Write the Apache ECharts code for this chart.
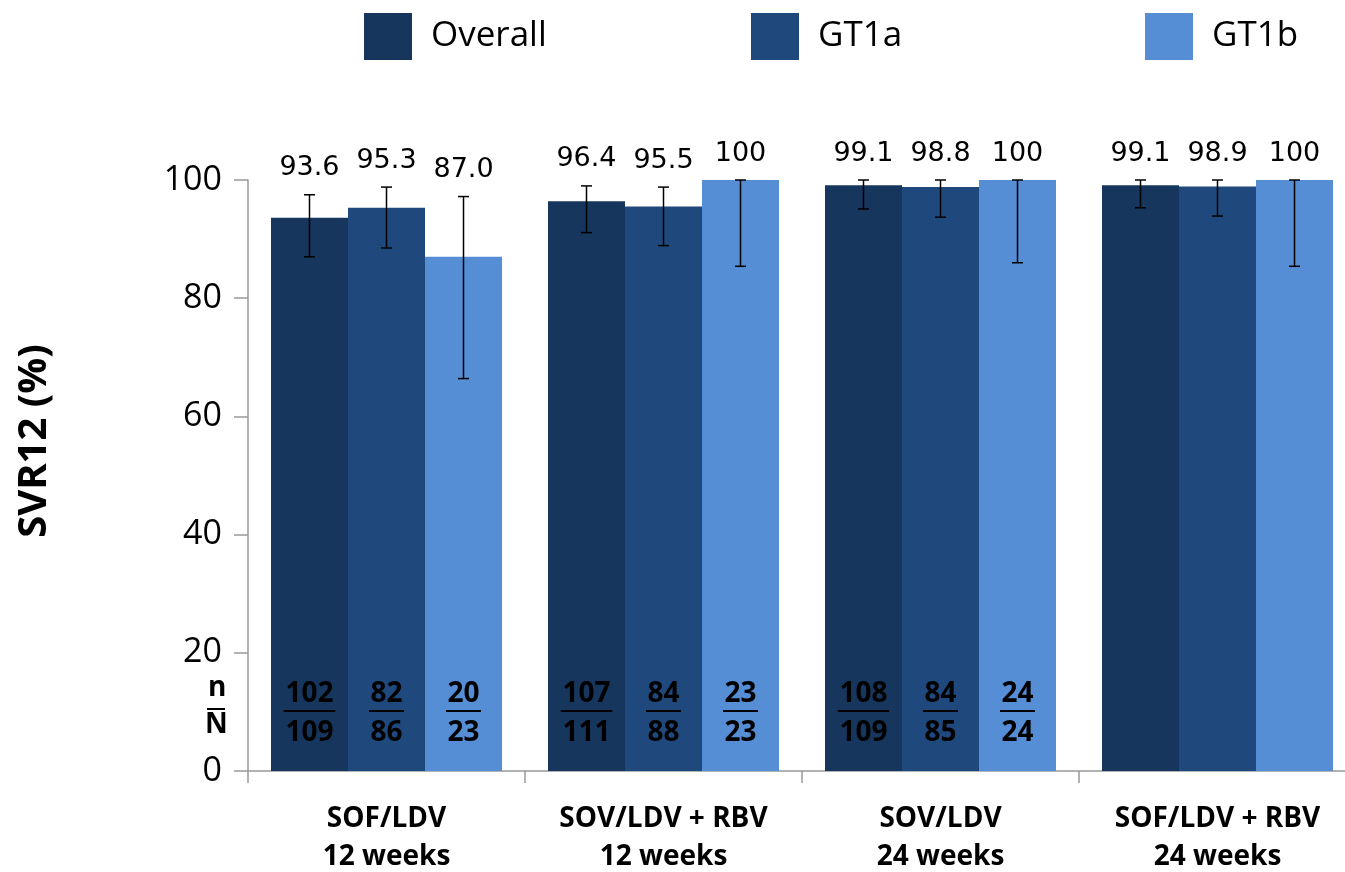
<!DOCTYPE html>
<html>
<head>
<meta charset="utf-8">
<script src="https://cdn.jsdelivr.net/npm/echarts@6/dist/echarts.min.js"></script>
<style>
  html, body { margin: 0; padding: 0; background: #fff; }
  #main { width: 1345px; height: 872px; }
</style>
</head>
<body>
<div id="main"></div>
<script>
// categories and series
const categories = ['SOF/LDV\n12 weeks', 'SOV/LDV + RBV\n12 weeks', 'SOV/LDV\n24 weeks', 'SOF/LDV + RBV\n24 weeks'];
const seriesNames = ['Overall', 'GT1a', 'GT1b'];
const colors = ['#17365D', '#1F497D', '#558ED5'];

// SVR12 values (%)
const overall = [93.6, 96.4, 99.1, 99.1];
const gt1a = [95.3, 95.5, 98.8, 98.9];
const gt1b = [87.0, 100, 100, 100];

// error bars: lower / upper
const overallLow = [87.0, 91.1, 95.1, 95.3];
const overallHigh = [97.5, 99.0, 100, 100];
const gt1aLow = [88.5, 88.9, 93.7, 93.9];
const gt1aHigh = [98.8, 98.8, 100, 100];
const gt1bLow = [66.4, 85.4, 86.0, 85.4];
const gt1bHigh = [97.2, 100, 100, 100];

// labels on bars
const valueLabels = [
    ['93.6', '96.4', '99.1', '99.1'],
    ['95.3', '95.5', '98.8', '98.9'],
    ['87.0', '100', '100', '100']
];

// n / N inside bars (last arm has none)
const overallN = ['102', '107', '108', ''];
const overallD = ['109', '111', '109', ''];
const gt1aN = ['82', '84', '84', ''];
const gt1aD = ['86', '88', '85', ''];
const gt1bN = ['20', '23', '24', ''];
const gt1bD = ['23', '23', '24', ''];

const yTicks = [0, 20, 40, 60, 80, 100];
const nRowY = 13.1;
const dRowY = 6.5;

const chart = echarts.init(document.getElementById('main'));

const values = [overall, gt1a, gt1b];
const lows = [overallLow, gt1aLow, gt1bLow];
const highs = [overallHigh, gt1aHigh, gt1bHigh];
const nums = [overallN, gt1aN, gt1bN];
const dens = [overallD, gt1aD, gt1bD];

const CAT_GAP = 0.166;

// error bar + label data: [cat, seriesIdx, low, high]
const extraData = [];
for (let s = 0; s < 3; s++) {
    for (let c = 0; c < categories.length; c++) {
        extraData.push([c, s, lows[s][c], highs[s][c]]);
    }
}

function renderExtra(params, api) {
    const c = api.value(0);
    const s = api.value(1);
    const band = api.size([1, 0])[0];
    const barW = band * (1 - CAT_GAP) / 3;
    const center = api.coord([c, 0])[0];
    const x = center + (s - 1) * barW;
    const lo = api.coord([c, api.value(2)])[1];
    const hi = api.coord([c, api.value(3)])[1];
    const cap = 5.5;
    const lineStyle = { stroke: '#000', lineWidth: 1.5 };
    const children = [
        { type: 'line', shape: { x1: x, y1: lo, x2: x, y2: hi }, style: lineStyle },
        { type: 'line', shape: { x1: x - cap, y1: lo, x2: x + cap, y2: lo }, style: lineStyle },
        { type: 'line', shape: { x1: x - cap, y1: hi, x2: x + cap, y2: hi }, style: lineStyle },
        {
            type: 'text',
            style: {
                text: valueLabels[s][c],
                x: x, y: hi - 13,
                align: 'center', verticalAlign: 'bottom',
                fill: '#000',
                font: '27px "DejaVu Sans"'
            }
        }
    ];
    const n = nums[s][c];
    const d = dens[s][c];
    if (n) {
        const ny = api.coord([c, nRowY])[1];
        const dy = api.coord([c, dRowY])[1];
        const tf = 'bold 28px "Open Sans"';
        children.push({
            type: 'text',
            style: { text: n, x: x, y: ny, align: 'center', verticalAlign: 'middle', fill: '#000', font: tf }
        });
        children.push({
            type: 'text',
            style: { text: d, x: x, y: dy, align: 'center', verticalAlign: 'middle', fill: '#000', font: tf }
        });
        const w = n.length * 16.5 + 2;
        const uy = (ny + dy) / 2 - 2;
        children.push({
            type: 'line',
            shape: { x1: x - w / 2, y1: uy, x2: x + w / 2, y2: uy },
            style: { stroke: '#000', lineWidth: 2 }
        });
    }
    return { type: 'group', children: children };
}

const barSeries = seriesNames.map(function (name, i) {
    return {
        name: name,
        type: 'bar',
        data: values[i],
        barGap: '0%',
        barCategoryGap: (CAT_GAP * 100) + '%',
        itemStyle: { color: colors[i] },
        silent: true
    };
});

const option = {
    animation: false,
    backgroundColor: '#fff',
    color: colors,
    legend: seriesNames.map(function (name, i) {
        return {
            data: [name],
            left: [364, 751, 1145][i],
            top: 13,
            padding: 0,
            itemWidth: 48,
            itemHeight: 47,
            icon: 'rect',
            selectedMode: false,
            textStyle: {
                fontSize: 35,
                fontFamily: 'Open Sans',
                color: '#000',
                padding: [0, 0, 0, 14]
            }
        };
    }),
    grid: {
        left: 248,
        top: 180,
        right: -11,
        bottom: 101,
        containLabel: false,
        outerBoundsMode: 'none'
    },
    xAxis: {
        type: 'category',
        data: categories,
        axisLine: { lineStyle: { color: '#999', width: 1.5 } },
        axisTick: { show: true, length: 12, lineStyle: { color: '#999', width: 1.5 } },
        axisLabel: {
            interval: 0,
            margin: 29,
            fontSize: 28,
            fontWeight: 'bold',
            fontFamily: 'Open Sans',
            lineHeight: 38,
            color: '#000'
        }
    },
    yAxis: {
        type: 'value',
        min: yTicks[0],
        max: yTicks[yTicks.length - 1],
        interval: 20,
        axisLine: { show: true, lineStyle: { color: '#999', width: 1.5 } },
        axisTick: { show: true, length: 14, lineStyle: { color: '#999', width: 1.5 } },
        splitLine: { show: false },
        axisLabel: {
            margin: 26,
            fontSize: 34,
            fontFamily: 'Open Sans',
            color: '#000'
        }
    },
    graphic: [
        {
            type: 'text',
            x: 35, y: 441,
            rotation: Math.PI / 2,
            style: {
                text: 'SVR12 (%)',
                font: 'bold 40px "Open Sans"',
                fill: '#000',
                align: 'center',
                verticalAlign: 'middle'
            }
        },
        {
            type: 'text', left: 208, top: 674,
            style: { text: 'n', font: 'bold 28px "Open Sans"', fill: '#000' }
        },
        {
            type: 'rect', left: 207, top: 708,
            shape: { width: 18, height: 2 },
            style: { fill: '#000' }
        },
        {
            type: 'text', left: 205, top: 711,
            style: { text: 'N', font: 'bold 28px "Open Sans"', fill: '#000' }
        }
    ],
    series: barSeries.concat([{
        type: 'custom',
        renderItem: renderExtra,
        data: extraData,
        encode: { x: 0, y: [2, 3] },
        silent: true,
        z: 10
    }])
};

chart.setOption(option);
</script>
</body>
</html>
